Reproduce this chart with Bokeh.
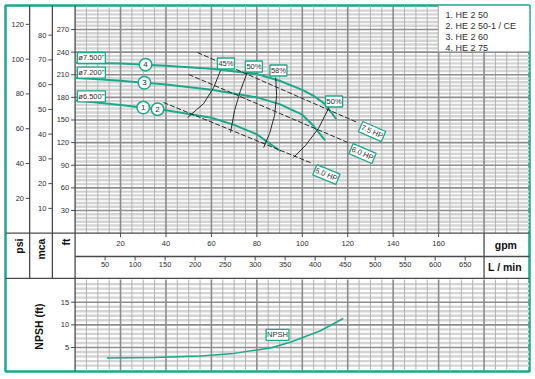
import numpy as np
from bokeh.plotting import figure
from bokeh.models import Range1d, Label
from bokeh.core.properties import value
from bokeh.embed import file_html
from bokeh.resources import INLINE

# ---------------- data ----------------
flow_gpm_4 = [0, 20, 40, 60, 80, 90, 100, 105, 110, 115]
head_ft_4 = [226, 225, 222, 218, 211, 202, 190, 182, 171, 151]
flow_gpm_3 = [0, 20, 40, 60, 80, 90, 100, 105, 110]
head_ft_3 = [206, 202, 197, 190, 180, 171, 157, 142, 123]
flow_gpm_1 = [0, 20, 40, 60, 70, 80, 85, 90.5]
head_ft_1 = [176, 170, 163, 153, 143.5, 131, 120, 108.5]

npsh_flow = [14, 35, 55, 70, 86, 95, 108, 118]
npsh_ft = [2.7, 2.8, 3.1, 3.7, 4.9, 6.2, 8.7, 11.4]

eff_labels = ["45%", "50%", "58%", "50%"]
eff_flow = [[64.0, 61.0, 56.6, 49.5],
            [75.9, 72.8, 70.2, 68.4],
            [88.3, 88.7, 87.8, 85.6, 83.0],
            [112.0, 107.1, 101.4, 96.1]]
eff_head = [[215.6, 193.0, 171.8, 153.2],
            [214.3, 189.1, 162.6, 133.4],
            [206.3, 182.4, 155.9, 132.1, 113.5],
            [167.9, 138.8, 116.2, 100.2]]

hp_labels = ["7.5 HP", "6.0 HP", "5.0 HP"]
hp_flow = [[53.9, 124.3], [50.0, 120.0], [38.9, 104.5]]
hp_head = [[239.4, 146.6], [210.3, 120.2], [173.2, 92.3]]

diameters = ['ø7.500"', 'ø7.200"', 'ø6.500"']
models = ["1. HE 2 50", "2. HE 2 50-1 / CE", "3. HE 2 60", "4. HE 2 75"]
curve_ids = ["4", "3", "1", "2"]

psi_ticks = [20, 40, 60, 80, 100, 120]
mca_ticks = [10, 20, 30, 40, 50, 60, 70, 80]
ft_ticks = [30, 60, 90, 120, 150, 180, 210, 240, 270]
gpm_ticks = [20, 40, 60, 80, 100, 120, 140, 160]
lmin_ticks = [50, 100, 150, 200, 250, 300, 350, 400, 450, 500, 550, 600, 650]
npsh_ticks = [5, 10, 15]

# ---------------- layout constants ----------------
GREEN = "#1aa98a"
FONT = "Liberation Sans"
TXT = "#2e2e2e"
DARK = "#4a4a4a"
PSI = 2.3067   # ft per psi
MCA = 3.2808   # ft per m
LPM = 3.7854   # L/min per gpm
GX0, GX1 = -30.63, 200.0
FT0, FT1 = -183.5, 301.8
NP0, NP1 = -0.3, 80.5
PXG = 524 / (GX1 - GX0)   # px per gpm
PXF = 366 / (FT1 - FT0)   # px per ft

p = figure(width=535, height=379, x_range=Range1d(GX0, GX1), y_range=Range1d(FT0, FT1),
           x_axis_type=None, y_axis_type=None, toolbar_location=None, output_backend="svg",
           min_border_left=5, min_border_right=6, min_border_top=5, min_border_bottom=8)
p.outline_line_color = GREEN
p.outline_line_width = 2.5
p.background_fill_color = "white"
p.border_fill_color = "white"
p.extra_y_ranges = {"psi": Range1d(FT0 / PSI, FT1 / PSI),
                    "mca": Range1d(FT0 / MCA, FT1 / MCA),
                    "npsh": Range1d(NP0, NP1)}
p.extra_x_ranges = {"lmin": Range1d(GX0 * LPM, GX1 * LPM)}

# ---------------- grids ----------------
minor_v = [float(g) for g in np.arange(5, 200, 5) if g % 20]
major_v = [float(g) for g in np.arange(20, 200, 20)]
minor_h = [float(f) for f in np.arange(5, 301, 5) if f % 30]
major_h = [float(f) for f in np.arange(30, 300, 30)]
MINH, MINV, MAJ = "#d4d4d4", "#b2b2b2", "#8c8c8c"

p.segment(x0=0, x1=200, y0=minor_h, y1=minor_h, line_color=MINH, line_width=2.4)
p.segment(x0=minor_v, x1=minor_v, y0=0, y1=FT1, line_color=MINV, line_width=1)
p.segment(x0=0, x1=200, y0=major_h, y1=major_h, line_color=MAJ, line_width=1.6)
p.segment(x0=major_v, x1=major_v, y0=0, y1=FT1, line_color=MAJ, line_width=1.6)

np_minor = [float(v) for v in range(1, 20) if v % 5]
p.segment(x0=0, x1=200, y0=np_minor, y1=np_minor, line_color=MINH, line_width=2.4, y_range_name="npsh")
p.segment(x0=minor_v, x1=minor_v, y0=NP0, y1=20, line_color=MINV, line_width=1, y_range_name="npsh")
p.segment(x0=0, x1=200, y0=npsh_ticks, y1=npsh_ticks, line_color=MAJ, line_width=1.6, y_range_name="npsh")
p.segment(x0=major_v, x1=major_v, y0=NP0, y1=20, line_color=MAJ, line_width=1.6, y_range_name="npsh")

# legend white box
p.quad(left=160, right=GX1, bottom=241, top=FT1, fill_color="white", line_color=None)
p.text(x=163, y=[289.8, 275.2, 260.6, 245.2], text=models, text_font=value(FONT),
       text_font_size="9px", text_color=TXT, text_align="left", text_baseline="middle")

# ---------------- frame / separator lines ----------------
p.segment(x0=[-20, -10], x1=[-20, -10], y0=-60, y1=FT1, line_color=DARK, line_width=1.3)
p.segment(x0=0, x1=0, y0=FT0, y1=FT1, line_color=DARK, line_width=1.3)
p.segment(x0=180, x1=180, y0=-60, y1=0, line_color=DARK, line_width=1.3)
p.segment(x0=[GX0, 0, GX0], x1=[GX1, GX1, GX1], y0=[0, -31, -60], y1=[0, -31, -60],
          line_color=DARK, line_width=1.4)

# ---------------- ticks and tick labels ----------------
TK = 4 / PXG
lab_kw = dict(text_font=value(FONT), text_font_size="7.5px", text_color=TXT)
p.segment(x0=-20, x1=-20 - TK, y0=psi_ticks, y1=psi_ticks, line_color=DARK, y_range_name="psi")
p.text(x=-22.5, y=psi_ticks, text=[str(v) for v in psi_ticks], text_align="right",
       text_baseline="middle", y_range_name="psi", **lab_kw)
p.segment(x0=-10, x1=-10 - TK, y0=mca_ticks, y1=mca_ticks, line_color=DARK, y_range_name="mca")
p.text(x=-12.6, y=mca_ticks, text=[str(v) for v in mca_ticks], text_align="right",
       text_baseline="middle", y_range_name="mca", **lab_kw)
p.segment(x0=0, x1=-TK, y0=ft_ticks, y1=ft_ticks, line_color=DARK)
p.text(x=-2.6, y=ft_ticks, text=[str(v) for v in ft_ticks], text_align="right",
       text_baseline="middle", **lab_kw)
p.segment(x0=0, x1=-TK, y0=npsh_ticks, y1=npsh_ticks, line_color=DARK, y_range_name="npsh")
p.text(x=-2.6, y=npsh_ticks, text=[str(v) for v in npsh_ticks], text_align="right",
       text_baseline="middle", y_range_name="npsh", **lab_kw)

TKF = 4 / PXF
p.segment(x0=gpm_ticks, x1=gpm_ticks, y0=0, y1=-TKF, line_color=DARK)
p.text(x=gpm_ticks, y=-14.3, text=[str(v) for v in gpm_ticks], text_align="center",
       text_baseline="middle", **lab_kw)
p.segment(x0=lmin_ticks, x1=lmin_ticks, y0=-31, y1=-31 - TKF, line_color=DARK, x_range_name="lmin")
p.text(x=lmin_ticks, y=-42, text=[str(v) for v in lmin_ticks], text_align="center",
       text_baseline="middle", x_range_name="lmin", **lab_kw)

# unit captions
cap_kw = dict(text_font=value(FONT), text_font_size="10.5px", text_font_style="bold", text_color="#111111")
p.text(x=[-24.5, -14.8, -4.2], y=-7.2, text=["psi", "mca", "ft"], angle=np.pi / 2,
       text_align="right", text_baseline="middle", **cap_kw)
p.text(x=[189.6], y=[-15.4], text=["gpm"], text_align="center", text_baseline="middle", **cap_kw)
p.text(x=[189.2], y=[-45.6], text=["L / min"], text_align="center", text_baseline="middle", **cap_kw)
p.text(x=[-16.1], y=[9.6], text=["NPSH (ft)"], angle=np.pi / 2, text_align="center",
       text_baseline="middle", y_range_name="npsh", **cap_kw)

# ---------------- curves ----------------
for q, h in [(flow_gpm_4, head_ft_4), (flow_gpm_3, head_ft_3), (flow_gpm_1, head_ft_1)]:
    p.line(q, h, line_color=GREEN, line_width=2)
p.line(npsh_flow, npsh_ft, line_color=GREEN, line_width=1.5, y_range_name="npsh")

for q, h in zip(eff_flow, eff_head):
    p.line(q, h, line_color="#2a2a2a", line_width=1)
for q, h in zip(hp_flow, hp_head):
    p.line(q, h, line_color="#2a2a2a", line_width=1, line_dash="5 2")

box_kw = dict(text_font=FONT, text_font_size="7.5px", text_color=TXT,
              background_fill_color="white", border_line_color=GREEN, border_line_width=1.3,
              padding=1, text_baseline="middle")

# diameter tags
for t, y in zip(diameters, [232.2, 212.9, 181.4]):
    p.add_layout(Label(x=1.0, y=y, text=t, text_align="left", **box_kw))

# efficiency tags
for t, (x, y) in zip(eff_labels, [(66.4, 224.9), (78.7, 220.9), (89.5, 215.6), (114.0, 174.5)]):
    p.add_layout(Label(x=x, y=y, text=t, text_align="center", **box_kw))

# HP tags, rotated along their lines
for t, q, h, (x, y) in zip(hp_labels, hp_flow, hp_head, [(130.7, 134.7), (126.5, 105.5), (110.6, 77.7)]):
    ang = float(np.arctan2((h[1] - h[0]) * PXF, (q[1] - q[0]) * PXG))
    p.add_layout(Label(x=x, y=y, text=t, angle=ang, text_align="center", **box_kw))

# NPSH tag
p.add_layout(Label(x=89.1, y=7.8, text="NPSH", text_align="center", y_range_name="npsh", **box_kw))

# numbered circles on the curves
cx = [31.0, 30.5, 30.0, 36.3]
cy = [float(np.interp(cx[0], flow_gpm_4, head_ft_4)),
      float(np.interp(cx[1], flow_gpm_3, head_ft_3)),
      float(np.interp(cx[2], flow_gpm_1, head_ft_1)),
      float(np.interp(cx[3], flow_gpm_1, head_ft_1))]
p.scatter(cx, cy, size=12.5, fill_color="white", line_color=GREEN, line_width=1.5)
p.text(x=cx, y=cy, text=curve_ids, text_align="center", text_baseline="middle",
       text_font=value(FONT), text_font_size="8px", text_color=TXT)

open("out.html", "w").write(file_html(p, INLINE))
